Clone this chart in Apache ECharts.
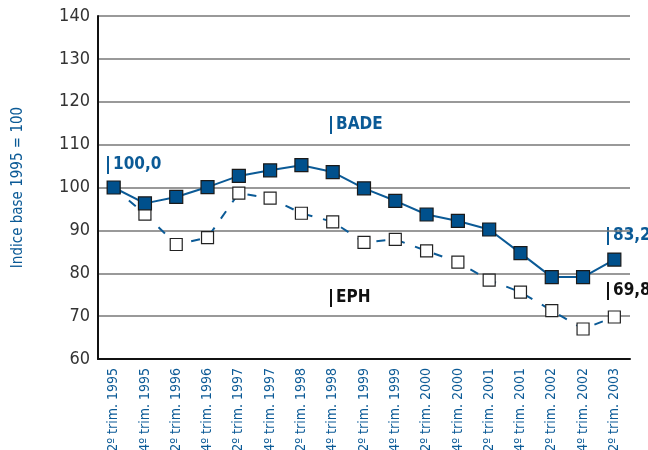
<!DOCTYPE html>
<html>
<head>
<meta charset="utf-8">
<script src="https://cdn.jsdelivr.net/npm/echarts@6/dist/echarts.min.js"></script>
<style>
  html, body { margin: 0; padding: 0; background: #fff; }
  #chart { width: 648px; height: 450px; }
</style>
</head>
<body>
<div id="chart"></div>
<script>
const categories = [
  '2º trim. 1995', '4º trim. 1995', '2º trim. 1996', '4º trim. 1996',
  '2º trim. 1997', '4º trim. 1997', '2º trim. 1998', '4º trim. 1998',
  '2º trim. 1999', '4º trim. 1999', '2º trim. 2000', '4º trim. 2000',
  '2º trim. 2001', '4º trim. 2001', '2º trim. 2002', '4º trim. 2002',
  '2º trim. 2003'
]
const badeValues = [100.0, 96.3, 97.8, 100.1, 102.7, 104.0, 105.2, 103.6, 99.8, 96.9, 93.7, 92.2, 90.2, 84.7, 79.1, 79.1, 83.2]
const ephValues = [100.0, 93.8, 86.7, 88.3, 98.7, 97.5, 94.0, 92.0, 87.2, 87.9, 85.2, 82.6, 78.4, 75.6, 71.3, 67.0, 69.8]
const yTicks = [60, 70, 80, 90, 100, 110, 120, 130, 140]

const BLUE = '#0b5a96'
const FONT = '"Liberation Sans Narrow", "DejaVu Sans Condensed", sans-serif'

const chart = echarts.init(document.getElementById('chart'))

// text callouts with the small vertical bar in front
const callout = (x, y, label, color) => ({
  type: 'group',
  left: x,
  top: y,
  children: [
    { type: 'rect', shape: { x: 0, y: 0, width: 2, height: 18 }, style: { fill: color } },
    {
      type: 'text', x: 6, y: 9,
      style: { text: label, fill: color, font: `bold 17px ${FONT}`, textVerticalAlign: 'middle' }
    }
  ]
})

chart.setOption({
  animation: false,
  grid: { left: 98, right: 18, top: 16, bottom: 91, outerBoundsMode: 'none', containLabel: false },
  xAxis: {
    type: 'category',
    data: categories,
    boundaryGap: true,
    axisLine: { lineStyle: { color: '#111', width: 2 } },
    axisTick: { inside: true, length: 8, lineStyle: { color: '#aaa', width: 2 } },
    axisLabel: {
      rotate: 90,
      interval: 0,
      color: BLUE,
      fontFamily: FONT,
      fontSize: 14,
      margin: 9
    }
  },
  yAxis: {
    type: 'value',
    min: yTicks[0],
    max: yTicks[yTicks.length - 1],
    interval: 10,
    name: 'Indice base 1995 = 100',
    nameLocation: 'middle',
    nameGap: 72,
    nameTextStyle: { color: BLUE, fontFamily: FONT, fontSize: 15 },
    axisLine: { show: true, lineStyle: { color: '#111', width: 2 } },
    axisTick: { show: false },
    axisLabel: { color: '#333', fontFamily: FONT, fontSize: 18, margin: 8 },
    splitLine: { lineStyle: { color: '#777', width: 1.5 } }
  },
  series: [
    {
      name: 'EPH',
      type: 'line',
      data: ephValues,
      z: 2,
      symbol: 'rect',
      symbolSize: 12,
      lineStyle: { color: BLUE, width: 2, type: [9, 11] },
      itemStyle: { color: '#fff', borderColor: '#222', borderWidth: 1.2 }
    },
    {
      name: 'BADE',
      type: 'line',
      data: badeValues,
      z: 3,
      symbol: 'rect',
      symbolSize: 13,
      lineStyle: { color: BLUE, width: 2 },
      itemStyle: { color: '#00508c', borderColor: '#1a1a1a', borderWidth: 1.2 }
    }
  ],
  graphic: [
    callout(107, 156, '100,0', BLUE),
    callout(330, 116, 'BADE', BLUE),
    callout(330, 289, 'EPH', '#111'),
    callout(607, 227, '83,2', BLUE),
    callout(607, 282, '69,8', '#111')
  ]
})
</script>
</body>
</html>
